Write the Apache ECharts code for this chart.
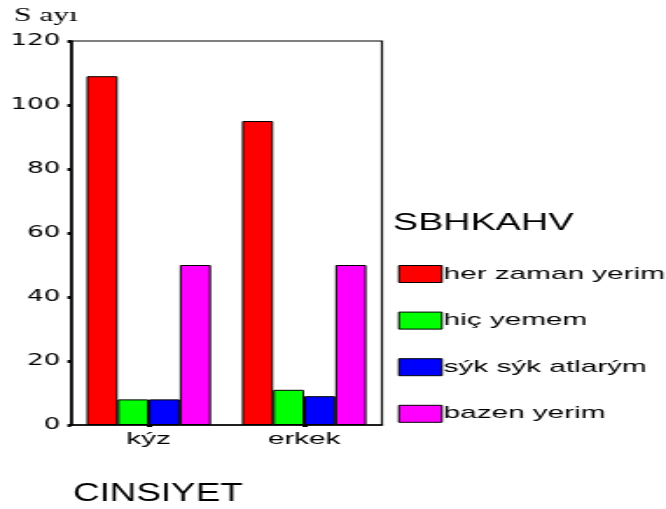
<!DOCTYPE html>
<html>

<head>
	<meta charset="utf-8">
	<title>SBHKAHV - CINSIYET</title>
	<script src="https://cdn.jsdelivr.net/npm/echarts@6/dist/echarts.min.js"></script>
	<style>
		body { margin: 0; background: #fff; overflow: hidden; }
		/* the original picture is stretched sideways, so draw narrow and widen */
		#main { width: 381px; height: 509px; transform: scaleX(1.748); transform-origin: 0 0; }
	</style>
</head>

<body>
	<div id="main"></div>
	<script type="text/javascript">
		var chart = echarts.init(document.getElementById('main'));

		//categories
		var cinsiyet = ['kýz', 'erkek'];
		//legend / series names
		var seriesNames = ['her zaman yerim', 'hiç yemem', 'sýk sýk atlarým', 'bazen yerim'];
		var seriesColors = ['#ff0000', '#00ff00', '#0000ff', '#ff00ff'];
		//values per series (kýz, erkek)
		var herZaman = [109, 95];
		var hicYemem = [8, 11];
		var sikSik = [8, 9];
		var bazen = [50, 50];
		var allValues = [herZaman, hicYemem, sikSik, bazen];
		//y axis
		var yMin = 0, yMax = 120, yStep = 20;

		var font = 'Liberation Sans, Arial, sans-serif';

		var series = [];
		for (var i = 0; i < seriesNames.length; i++) {
			series.push({
				name: seriesNames[i],
				type: 'bar',
				data: allValues[i],
				barGap: 0,
				barCategoryGap: '20%',
				itemStyle: {
					color: seriesColors[i],
					borderColor: '#000',
					borderWidth: 1
				},
				emphasis: { disabled: true }
			});
		}

		var option = {
			backgroundColor: '#fff',
			animation: false,
			title: {
				text: 'S ayı',
				left: 8,
				top: 7,
				padding: 0,
				textStyle: {
					color: '#000',
					fontSize: 18,
					fontWeight: 'normal',
					fontFamily: 'Liberation Serif, Times New Roman, serif'
				}
			},
			grid: {
				left: 40.6,
				right: 162.5,
				top: 41,
				bottom: 84,
				show: true,
				borderColor: '#000',
				borderWidth: 1.2,
				containLabel: false
			},
			legend: {
				orient: 'vertical',
				left: 227.7,
				top: 265,
				padding: 0,
				itemWidth: 24.6,
				itemHeight: 17,
				itemGap: 28.6,
				icon: 'rect',
				itemStyle: {
					borderColor: '#000',
					borderWidth: 1
				},
				textStyle: {
					color: '#000',
					fontSize: 17,
					lineHeight: 17,
					fontFamily: font,
					padding: [0, 0, 0, -4]
				},
				data: seriesNames
			},
			xAxis: {
				type: 'category',
				data: cinsiyet,
				axisLine: { lineStyle: { color: '#000', width: 1.5 } },
				axisTick: { show: true, alignWithLabel: true, length: 2, lineStyle: { color: '#000', width: 3 } },
				axisLabel: { color: '#000', fontSize: 17, fontFamily: font, margin: 6 }
			},
			yAxis: {
				type: 'value',
				min: yMin,
				max: yMax,
				interval: yStep,
				splitLine: { show: false },
				axisLine: { show: true, lineStyle: { color: '#000', width: 1.5 } },
				axisTick: { show: true, length: 2, lineStyle: { color: '#000', width: 3 } },
				axisLabel: { color: '#000', fontSize: 15, fontFamily: 'DejaVu Sans, sans-serif', margin: 6 }
			},
			graphic: [{
				//legend heading
				type: 'text',
				left: 224.8,
				top: 211,
				scaleX: 0.9,
				style: {
					text: 'SBHKAHV',
					fill: '#000',
					fontSize: 24,
					fontFamily: font
				}
			}, {
				//x axis name
				type: 'text',
				left: 41.7,
				top: 481,
				scaleX: 0.81,
				style: {
					text: 'CINSIYET',
					fill: '#000',
					fontSize: 26,
					fontFamily: font
				}
			}],
			series: series
		};
		chart.setOption(option);
	</script>
</body>

</html>
